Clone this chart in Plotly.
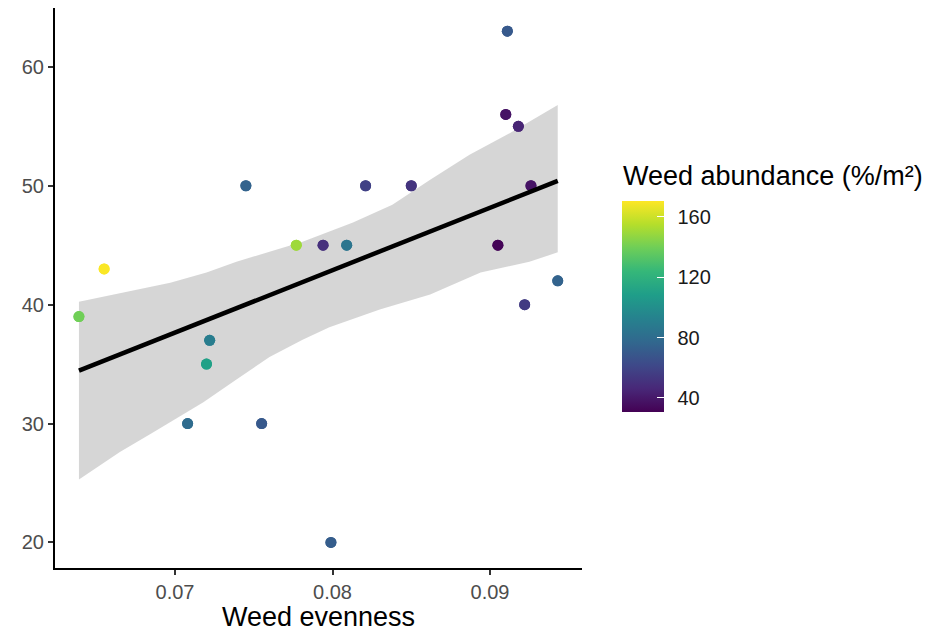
import numpy as np
import plotly.graph_objects as go

evenness = [0.0639, 0.0655, 0.0745, 0.0777, 0.0794, 0.0809, 0.0821, 0.0850, 0.0911, 0.0910,
            0.0918, 0.0926, 0.0905, 0.0943, 0.0922, 0.0722, 0.0720, 0.0708, 0.0755, 0.0799]
richness = [39, 43, 50, 45, 45, 45, 50, 50, 63, 56,
            55, 50, 45, 42, 40, 37, 35, 30, 30, 20]
abundance = [140, 170, 75, 150, 50, 85, 58, 52, 70, 38,
             45, 38, 32, 75, 55, 90, 110, 80, 70, 72]

# confidence band edges
band_upper_x = [0.0639, 0.0671, 0.0697, 0.0720, 0.0739, 0.0760, 0.0781, 0.0813, 0.0838,
                0.0862, 0.0887, 0.0913, 0.0943]
band_upper_y = [40.25, 41.1, 41.85, 42.7, 43.6, 44.45, 45.3, 46.9, 48.4,
                50.5, 52.6, 54.45, 56.8]
band_lower_x = [0.0639, 0.0665, 0.0686, 0.0718, 0.0739, 0.0760, 0.0781, 0.0798, 0.0830,
                0.0862, 0.0894, 0.0925, 0.0943]
band_lower_y = [25.3, 27.6, 29.25, 31.8, 33.7, 35.6, 37.05, 38.1, 39.6,
                40.85, 42.7, 43.6, 44.4]

x_ticks = [0.07, 0.08, 0.09]
x_tick_text = ["0.07", "0.08", "0.09"]
y_ticks = [20, 30, 40, 50, 60]
cb_ticks = [40, 80, 120, 160]

# linear fit line (geom_smooth(method="lm"))
x = np.array(evenness)
y = np.array(richness)
b1, b0 = np.polyfit(x, y, 1)
xs = np.array([x.min(), x.max()])
ys = b0 + b1 * xs

FONT = "Liberation Sans"
CB_COMMON = dict(xref="paper", yref="paper", x=(622 - 55) / 527, xanchor="left",
                 y=(568 - 412) / 560, yanchor="bottom", lenmode="pixels", len=211,
                 thicknessmode="pixels", thickness=42, outlinewidth=0,
                 tickvals=cb_ticks, xpad=0, ypad=0)

fig = go.Figure()
fig.add_trace(go.Scatter(
    x=band_upper_x + band_lower_x[::-1], y=band_upper_y + band_lower_y[::-1],
    fill="toself", fillcolor="rgba(153,153,153,0.4)", line=dict(width=0),
    mode="lines", hoverinfo="skip", showlegend=False))
# colourbar carrying the labels (transparent outside ticks give the label gap)
fig.add_trace(go.Scatter(
    x=evenness, y=richness, mode="markers", showlegend=False, hoverinfo="skip",
    marker=dict(size=11, color=abundance, colorscale="Viridis", cmin=30.7, cmax=170.6,
                line=dict(width=0),
                colorbar=dict(**CB_COMMON, ticks="outside", ticklen=10,
                              tickcolor="rgba(0,0,0,0)",
                              tickfont=dict(family=FONT, size=20, color="#1a1a1a")))))
# colourbar with the white inside tick marks
fig.add_trace(go.Scatter(
    x=evenness, y=richness, mode="markers", showlegend=False,
    marker=dict(size=11, color=abundance, colorscale="Viridis", cmin=30.7, cmax=170.6,
                line=dict(width=0),
                colorbar=dict(**CB_COMMON, ticks="inside", ticklen=7, tickcolor="white",
                              tickwidth=1, showticklabels=False))))
fig.add_trace(go.Scatter(x=xs, y=ys, mode="lines", line=dict(color="black", width=4.5),
                         hoverinfo="skip", showlegend=False))

fig.add_annotation(text="Weed abundance (%/m²)", xref="paper", yref="paper",
                   x=(621 - 55) / 527, y=(568 - 176) / 560, xanchor="left", yanchor="middle",
                   showarrow=False, font=dict(family=FONT, size=27, color="black"))

fig.update_layout(
    width=944, height=632, margin=dict(l=55, r=362, t=8, b=64),
    plot_bgcolor="white", paper_bgcolor="white",
    xaxis=dict(range=[0.06238, 0.09584], tickvals=x_ticks, ticktext=x_tick_text,
               automargin=False,
               showgrid=False, zeroline=False, showline=True, linecolor="black", linewidth=2,
               ticks="outside", ticklen=5, tickwidth=1.5, tickcolor="#333333",
               tickfont=dict(family=FONT, size=20, color="#4d4d4d"),
               title=dict(text="Weed evenness", standoff=4,
                          font=dict(family=FONT, size=27, color="black"))),
    yaxis=dict(range=[17.85, 64.95], tickvals=y_ticks, automargin=False,
               showgrid=False, zeroline=False, showline=True, linecolor="black", linewidth=2,
               ticks="outside", ticklen=5, tickwidth=1.5, tickcolor="#333333",
               tickfont=dict(family=FONT, size=20, color="#4d4d4d")),
)

fig.write_html("out.html")
